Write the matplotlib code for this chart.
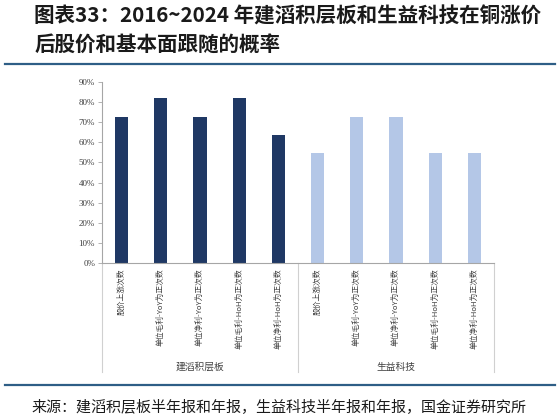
import matplotlib
matplotlib.use('Agg')
import matplotlib.pyplot as plt
import matplotlib.transforms as mtransforms

plt.rcParams['font.family'] = ['Noto Sans CJK SC', 'DejaVu Sans']

# 数据
groups = ['建滔积层板', '生益科技']
categories = ['股价上涨次数', '单位毛利-YoY为正次数', '单位净利-YoY为正次数',
              '单位毛利-HoH为正次数', '单位净利-HoH为正次数']
kb_values = [72.7, 81.8, 72.7, 81.8, 63.6]
sy_values = [54.5, 72.7, 72.7, 54.5, 54.5]
group_colors = ['#1F3864', '#B4C7E7']
y_ticks = [0, 10, 20, 30, 40, 50, 60, 70, 80, 90]

fig = plt.figure(figsize=(5.59, 4.17), dpi=100)
ax = fig.add_axes([0.1825, 0.3693, 0.7012, 0.4341])

n = len(categories)
for g, vals in enumerate([kb_values, sy_values]):
    xs = [g * n + i for i in range(n)]
    ax.bar(xs, vals, width=0.34, color=group_colors[g], zorder=2)

ax.set_xlim(-0.5, 2 * n - 0.5)
ax.set_ylim(0, 90)
ax.set_yticks(y_ticks)
ax.set_yticklabels([f'{t}%' for t in y_ticks], family='Liberation Serif', fontsize=6.5, color='#404040')
ax.tick_params(axis='y', length=3, width=0.6, color='#A6A6A6', pad=2)

ax.set_xticks(range(2 * n))
ax.set_xticklabels(categories * 2, rotation=90, fontsize=5.6, color='#404040')
ax.tick_params(axis='x', length=0, pad=4)

for s in ['top', 'right']:
    ax.spines[s].set_visible(False)
for s in ['left', 'bottom']:
    ax.spines[s].set_color('#A6A6A6')
    ax.spines[s].set_linewidth(0.8)

# 分组框线与分组标签
trans = mtransforms.blended_transform_factory(ax.transData, ax.transAxes)
for xb in [-0.5, n - 0.5, 2 * n - 0.5]:
    ax.plot([xb, xb], [0, -0.60], transform=trans, color='#D0D0D0', lw=0.8, clip_on=False)
for g, name in enumerate(groups):
    ax.text(g * n + (n - 1) / 2, -0.575, name, transform=trans, ha='center', va='center',
            fontsize=7, color='#404040')

# 标题与来源
fig.text(0.061, 0.962, '图表33：2016~2024 年建滔积层板和生益科技在铜涨价', fontsize=14.8,
         fontweight='bold', ha='left', va='center', color='#1A1A1A')
fig.text(0.061, 0.893, '后股价和基本面跟随的概率', fontsize=14.8,
         fontweight='bold', ha='left', va='center', color='#1A1A1A')
fig.add_artist(plt.Line2D([0.009, 0.993], [0.847, 0.847], color='#2E5E86', lw=1.6))
fig.add_artist(plt.Line2D([0.009, 0.993], [0.077, 0.077], color='#2E5E86', lw=1.6))
fig.text(0.057, 0.026, '来源：建滔积层板半年报和年报，生益科技半年报和年报，国金证券研究所',
         fontsize=10.8, ha='left', va='center', color='#1A1A1A')

fig.savefig('out.png', dpi=100)
